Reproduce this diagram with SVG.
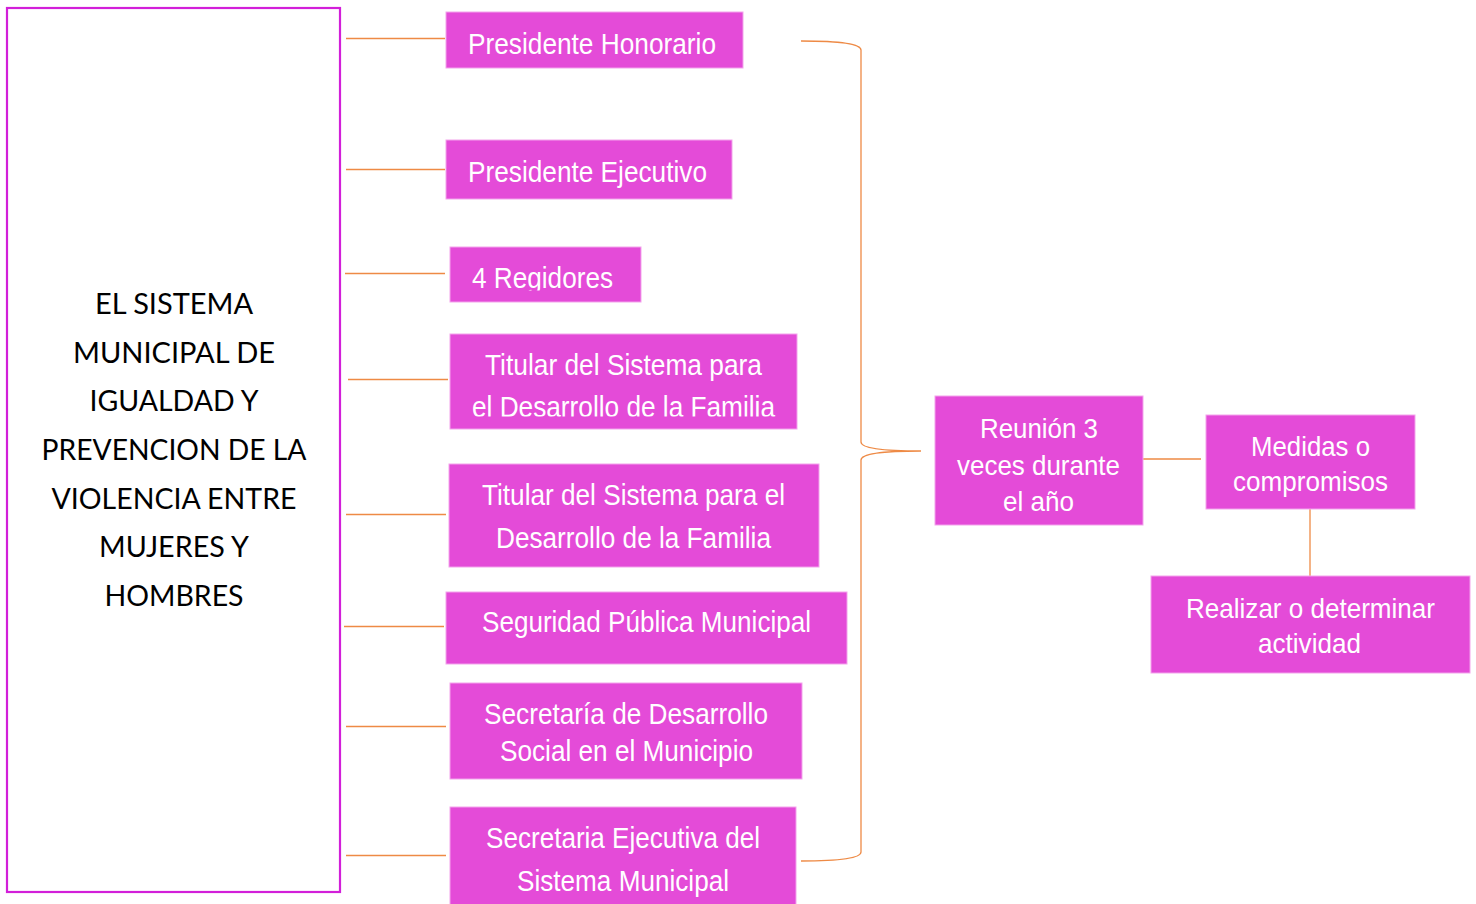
<svg xmlns="http://www.w3.org/2000/svg" width="1476" height="904" viewBox="0 0 1476 904">
<defs>
<style>
.box{fill:#e44bd8;stroke:#f3a3ec;stroke-width:1}
.t{font-family:"Liberation Sans Narrow","Liberation Sans",Arial,sans-serif;fill:#ffffff;font-size:30px}
.t2{font-family:"Liberation Sans Narrow","Liberation Sans",Arial,sans-serif;fill:#ffffff;font-size:28px}
.main{fill:#ffffff;stroke:#d21fd9;stroke-width:2.2}
.mt{font-family:Lato,"Open Sans",sans-serif;font-size:29px;fill:#000000;text-anchor:middle}
.c{fill:none;stroke:#ee8a45;stroke-width:1.3}
</style>
<clipPath id="clip3"><rect x="450" y="247" width="191" height="43.5"/></clipPath>
<clipPath id="clip4"><rect x="450" y="334" width="347" height="82.5"/></clipPath>
</defs>
<rect width="1476" height="904" fill="#ffffff"/>

<g id="connectors">
<line class="c" x1="346" y1="38.5" x2="445" y2="38.5"/>
<line class="c" x1="346" y1="169.5" x2="445" y2="169.5"/>
<line class="c" x1="345" y1="273.5" x2="445" y2="273.5"/>
<line class="c" x1="348" y1="379.5" x2="448" y2="379.5"/>
<line class="c" x1="346" y1="514.5" x2="446" y2="514.5"/>
<line class="c" x1="344" y1="626.5" x2="444" y2="626.5"/>
<line class="c" x1="346" y1="726.5" x2="446" y2="726.5"/>
<line class="c" x1="346" y1="855.5" x2="446" y2="855.5"/>
<path class="c" d="M801 41 C840 41 861 44 861 50 L861 442 C861 448 880 451 921 451 C880 451 861 454 861 460 L861 852 C861 858 840 861 801 861"/>
<line class="c" x1="1143" y1="459" x2="1201" y2="459"/>
<line class="c" x1="1310" y1="509" x2="1310" y2="576"/>
</g>

<g id="n-main">
<rect class="main" x="7" y="8" width="333" height="884"/>
<text class="mt" x="174" y="314" textLength="158" lengthAdjust="spacingAndGlyphs">EL SISTEMA</text>
<text class="mt" x="174" y="363" textLength="202" lengthAdjust="spacingAndGlyphs">MUNICIPAL DE</text>
<text class="mt" x="174" y="411" textLength="169" lengthAdjust="spacingAndGlyphs">IGUALDAD Y</text>
<text class="mt" x="174" y="460" textLength="265" lengthAdjust="spacingAndGlyphs">PREVENCION DE LA</text>
<text class="mt" x="174" y="509" textLength="245" lengthAdjust="spacingAndGlyphs">VIOLENCIA ENTRE</text>
<text class="mt" x="174" y="557" textLength="150" lengthAdjust="spacingAndGlyphs">MUJERES Y</text>
<text class="mt" x="174" y="606" textLength="139" lengthAdjust="spacingAndGlyphs">HOMBRES</text>
</g>

<g id="n-honorario">
<rect class="box" x="446" y="12" width="297" height="56"/>
<text class="t" x="468" y="54" textLength="248" lengthAdjust="spacingAndGlyphs">Presidente Honorario</text>
</g>

<g id="n-ejecutivo">
<rect class="box" x="446" y="140" width="286" height="59"/>
<text class="t" x="468" y="182" textLength="239" lengthAdjust="spacingAndGlyphs">Presidente Ejecutivo</text>
</g>

<g id="n-regidores">
<rect class="box" x="450" y="247" width="191" height="55"/>
<text class="t" x="472" y="288" textLength="141" lengthAdjust="spacingAndGlyphs" clip-path="url(#clip3)">4 Regidores</text>
</g>

<g id="n-titular1">
<rect class="box" x="450" y="334" width="347" height="95"/>
<g clip-path="url(#clip4)">
<text class="t" x="485" y="375" textLength="277" lengthAdjust="spacingAndGlyphs">Titular del Sistema para</text>
<text class="t" x="472" y="417" textLength="303" lengthAdjust="spacingAndGlyphs">el Desarrollo de la Familia</text>
</g>
</g>

<g id="n-titular2">
<rect class="box" x="449" y="464" width="370" height="103"/>
<text class="t" x="482" y="505" textLength="303" lengthAdjust="spacingAndGlyphs">Titular del Sistema para el</text>
<text class="t" x="496" y="548" textLength="275" lengthAdjust="spacingAndGlyphs">Desarrollo de la Familia</text>
</g>

<g id="n-seguridad">
<rect class="box" x="446" y="592" width="401" height="72"/>
<text class="t" x="482" y="632" textLength="329" lengthAdjust="spacingAndGlyphs">Seguridad Pública Municipal</text>
</g>

<g id="n-desarrollo-social">
<rect class="box" x="450" y="683" width="352" height="96"/>
<text class="t" x="484" y="724" textLength="284" lengthAdjust="spacingAndGlyphs">Secretaría de Desarrollo</text>
<text class="t" x="500" y="761" textLength="253" lengthAdjust="spacingAndGlyphs">Social en el Municipio</text>
</g>

<g id="n-secretaria-ejecutiva">
<rect class="box" x="450" y="807" width="346" height="100"/>
<text class="t" x="486" y="848" textLength="274" lengthAdjust="spacingAndGlyphs">Secretaria Ejecutiva del</text>
<text class="t" x="517" y="891" textLength="212" lengthAdjust="spacingAndGlyphs">Sistema Municipal</text>
</g>

<g id="n-reunion">
<rect class="box" x="935" y="396" width="208" height="129"/>
<text class="t2" x="980" y="438" textLength="118" lengthAdjust="spacingAndGlyphs">Reunión 3</text>
<text class="t2" x="957" y="475" textLength="163" lengthAdjust="spacingAndGlyphs">veces durante</text>
<text class="t2" x="1003" y="511" textLength="71" lengthAdjust="spacingAndGlyphs">el año</text>
</g>

<g id="n-medidas">
<rect class="box" x="1206" y="415" width="209" height="94"/>
<text class="t2" x="1251" y="456" textLength="119" lengthAdjust="spacingAndGlyphs">Medidas o</text>
<text class="t2" x="1233" y="491" textLength="155" lengthAdjust="spacingAndGlyphs">compromisos</text>
</g>

<g id="n-realizar">
<rect class="box" x="1151" y="576" width="319" height="97"/>
<text class="t2" x="1186" y="618" textLength="249" lengthAdjust="spacingAndGlyphs">Realizar o determinar</text>
<text class="t2" x="1258" y="653" textLength="103" lengthAdjust="spacingAndGlyphs">actividad</text>
</g>
</svg>
